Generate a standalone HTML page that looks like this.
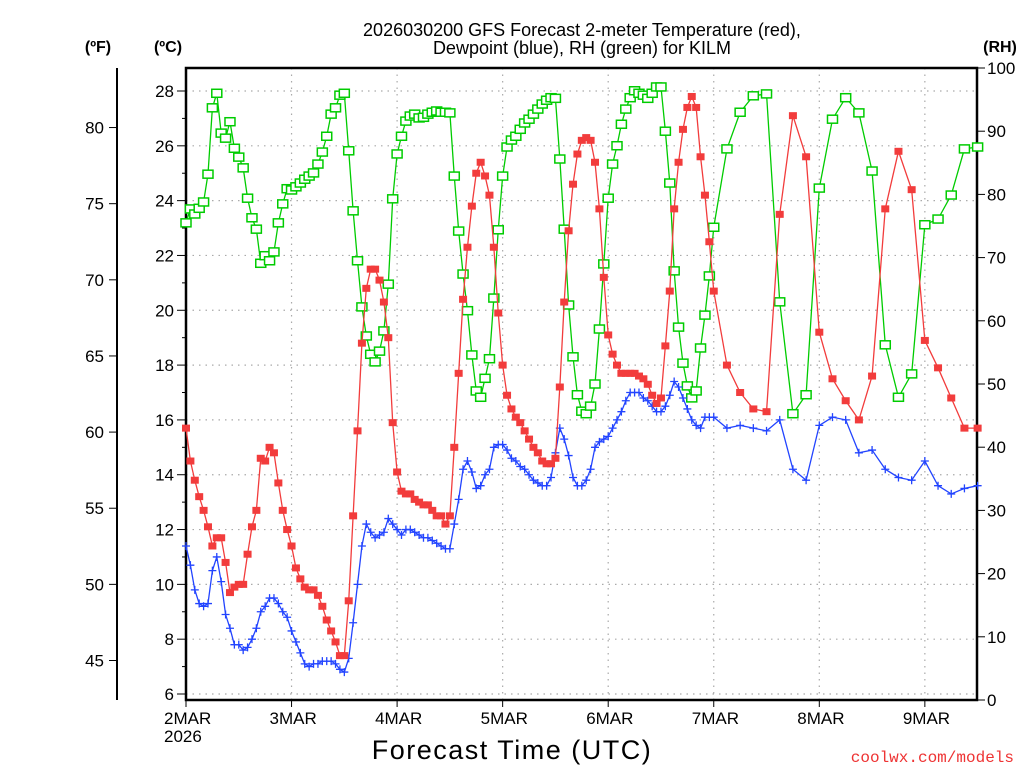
<!DOCTYPE html>
<html><head><meta charset="utf-8"><style>
html,body{margin:0;padding:0;background:#fff;}
svg{display:block;font-family:"Liberation Sans",sans-serif;}
</style></head><body>
<svg id="chart" width="1024" height="768" viewBox="0 0 1024 768" xmlns="http://www.w3.org/2000/svg">
<g id="grid"></g>
<g id="axes"></g>
<g id="series"></g>
<text x="582" y="36" font-size="18" text-anchor="middle">2026030200 GFS Forecast 2-meter Temperature (red),</text>
<text x="582" y="54" font-size="18" text-anchor="middle">Dewpoint (blue), RH (green) for KILM</text>
<text x="98" y="52" font-size="16" font-weight="bold" text-anchor="middle">(ºF)</text>
<text x="168" y="52" font-size="16" font-weight="bold" text-anchor="middle">(ºC)</text>
<text x="1000" y="52" font-size="16" font-weight="bold" text-anchor="middle">(RH)</text>
<text x="512" y="759" font-size="27" letter-spacing="1.5" text-anchor="middle">Forecast Time (UTC)</text>
<text x="1014" y="762" font-size="16" fill="#ee3333" text-anchor="end" font-family="Liberation Mono, monospace">coolwx.com/models</text>
</svg>
<script>
const tempHours = [];
for (let i = 0; i <= 120; i++) tempHours.push(i);
for (let i = 123; i <= 180; i += 3) tempHours.push(i);
const tempC = [15.7,14.5,13.8,13.2,12.7,12.1,11.4,11.7,11.7,10.8,9.7,9.9,10.0,10.0,11.1,12.1,12.7,14.6,14.5,15.0,14.8,13.7,12.7,12.0,11.4,10.6,10.2,9.9,9.8,9.8,9.6,9.2,8.7,8.3,7.9,7.4,7.4,9.4,
12.5,15.6,18.8,20.8,21.5,21.5,21.1,20.3,19.0,15.9,14.1,
13.4,13.3,13.3,13.1,13.0,12.9,12.9,12.7,12.5,12.5,12.2,12.5,15.0,17.7,20.4,22.3,23.8,25.0,25.4,24.9,24.2,22.3,19.9,18.0,16.9,16.4,16.1,15.9,15.6,15.3,15.0,14.8,14.5,14.4,14.4,14.6,17.2,20.3,22.9,24.6,25.7,26.2,26.3,26.2,25.4,23.7,21.2,19.1,
18.4,18.0,17.7,17.7,17.7,17.7,17.6,17.5,17.3,16.9,16.6,16.8,18.7,20.7,23.7,25.4,26.6,27.4,27.8,27.4,25.6,24.2,22.5,20.7,
18.0,17.0,16.4,16.3,23.5,27.1,25.6,19.2,17.5,16.7,16.0,17.6,23.7,25.8,24.4,18.9,17.9,16.8,15.7,15.7];
const dewC = [11.4,10.7,9.8,9.3,9.2,9.3,10.5,11.0,10.1,8.9,8.4,7.8,7.8,7.6,7.7,8.0,8.4,9.0,9.2,9.5,9.5,9.3,9.0,8.8,8.3,7.9,7.5,7.1,7.0,7.1,7.1,7.2,7.2,7.2,7.1,6.9,6.8,7.3,8.6,10.0,11.4,12.2,11.9,11.7,11.8,11.9,12.4,
12.2,12.0,11.8,12.0,12.0,11.9,11.8,11.7,11.7,11.6,11.5,11.4,11.3,11.3,
12.2,13.1,14.2,14.5,14.1,13.5,13.6,14.0,14.2,15.0,15.1,15.1,14.9,14.6,14.5,14.3,14.2,14.0,13.8,13.7,13.6,13.6,13.9,14.8,15.7,15.3,14.7,13.9,13.6,13.6,13.8,14.2,15.0,15.2,15.3,
15.4,15.7,16.0,16.3,16.7,17.0,17.0,17.0,16.8,16.7,16.5,16.3,16.3,16.5,16.9,17.4,17.2,16.8,16.4,16.0,15.8,15.7,16.1,16.1,16.1,
15.7,15.8,15.7,15.6,16.0,14.2,13.8,15.8,16.1,16.0,14.8,14.9,14.2,13.9,13.8,14.5,13.6,13.3,13.5,13.6];
const rhPct = [75.5,77.7,76.9,77.8,78.8,83.2,93.7,96.0,89.7,88.9,91.5,87.3,85.9,84.2,79.4,76.3,74.5,69.1,70.3,69.5,70.9,75.5,78.5,80.9,80.7,81.2,81.8,82.4,82.9,83.4,84.8,86.7,89.2,92.7,93.7,95.7,96.0,86.9,77.4,69.5,62.2,57.6,54.7,53.5,55.2,58.4,65.8,79.3,86.4,
89.2,91.6,92.4,92.7,92.1,92.2,92.7,93.0,93.2,93.0,93.0,92.9,82.9,74.2,67.4,61.6,54.6,48.9,47.9,50.9,54.0,63.6,74.4,82.9,87.5,88.6,89.2,90.3,91.3,91.9,92.7,93.5,94.3,94.9,95.3,95.2,85.6,74.5,62.5,54.3,48.3,45.7,45.3,46.5,50.0,58.7,69.0,79.4,
84.8,87.7,91.1,93.5,95.3,96.4,96.0,95.7,95.2,96.0,97.0,97.0,90.0,81.8,67.9,59.0,53.3,49.7,47.8,48.9,55.7,60.9,67.1,74.8,
87.2,93.0,95.6,95.9,63.0,45.3,48.3,81.0,91.9,95.3,92.9,83.7,56.2,47.9,51.6,75.2,76.1,79.9,87.2,87.5];
const cTicks = [6,8,10,12,14,16,18,20,22,24,26,28];
const fTicks = [45,50,55,60,65,70,75,80];
const rhTicks = [0,10,20,30,40,50,60,70,80,90,100];
const dayLabels = ["2MAR","3MAR","4MAR","5MAR","6MAR","7MAR","8MAR","9MAR"];

const NS = "http://www.w3.org/2000/svg";
const L = 186, R = 977, T = 68, B = 700;
const xScale = h => L + h * (105.55 / 24);
const yC = c => 91 + (28 - c) * (603 / 22);
const yF = f => yC((f - 32) * 5 / 9);
const yRH = r => B - r * (B - T) / 100;
function el(tag, attrs, parent) {
  const e = document.createElementNS(NS, tag);
  for (const k in attrs) e.setAttribute(k, attrs[k]);
  parent.appendChild(e);
  return e;
}
const grid = document.getElementById('grid');
const axes = document.getElementById('axes');
const series = document.getElementById('series');

cTicks.forEach(c => {
  const y = yC(c);
  const g = el('line', {x1: L, x2: R, y1: y, y2: y, stroke: '#aaa', 'stroke-width': 1.2, 'stroke-dasharray': '1.5 5'}, grid);
  
  
  const t = el('line', {x1: L - 9, x2: L, y1: y, y2: y, stroke: '#000', 'stroke-width': 1}, axes);
  
  
  const lb = el('text', {x: L - 12, y: y + 6, 'font-size': 17, 'text-anchor': 'end'}, axes);
  lb.textContent = c;
  
  
});
for (let c = 7; c <= 28; c++) {
  if (c % 2 === 0) continue;
  const y = yC(c);
  const t = el('line', {x1: L - 4, x2: L, y1: y, y2: y, stroke: '#000', 'stroke-width': 1}, axes);
  
  
}
dayLabels.forEach((d, i) => {
  const x = xScale(i * 24);
  const g = el('line', {x1: x, x2: x, y1: T, y2: B, stroke: '#aaa', 'stroke-width': 1.2, 'stroke-dasharray': '1.5 5'}, grid);
  
  
  const t = el('line', {x1: x, x2: x, y1: B, y2: B + 7, stroke: '#000', 'stroke-width': 1}, axes);
  
  
  const lb = el('text', {x: i === 0 ? L - 22 : x - 22, y: B + 24, 'font-size': 17}, axes);
  lb.textContent = d;
  
  
});
const yr = el('text', {x: L - 22, y: B + 42, 'font-size': 17}, axes);
yr.textContent = '2026';



const fr = el('rect', {x: L, y: T, width: R - L, height: B - T, fill: 'none', stroke: '#000', 'stroke-width': 2.5}, axes);


const fax = el('line', {x1: 117, x2: 117, y1: T, y2: B, stroke: '#000', 'stroke-width': 2}, axes);


fTicks.forEach(f => {
  const y = yF(f);
  const t = el('line', {x1: 109, x2: 117, y1: y, y2: y, stroke: '#000', 'stroke-width': 1}, axes);
  
  
  const lb = el('text', {x: 104, y: y + 6, 'font-size': 17, 'text-anchor': 'end'}, axes);
  lb.textContent = f;
  
  
});
rhTicks.forEach(r => {
  const y = yRH(r);
  const t = el('line', {x1: R, x2: R + 8, y1: y, y2: y, stroke: '#000', 'stroke-width': 1}, axes);
  
  
  const lb = el('text', {x: R + 10, y: y + 6, 'font-size': 17}, axes);
  lb.textContent = r;
  
  
});

function drawSeries(vals, yf, color, kind, name) {
  const pts = vals.map((v, i) => [xScale(tempHours[i]), yf(v)]);
  const pl = el('polyline', {points: pts.map(p => p.join(',')).join(' '), fill: 'none', stroke: color, 'stroke-width': 1.3}, series);
  
  
  pts.forEach(p => {
    let m;
    if (kind === 'filled') {
      m = el('rect', {x: p[0] - 4, y: p[1] - 3.5, width: 8, height: 7, fill: color}, series);
    } else if (kind === 'open') {
      m = el('rect', {x: p[0] - 5, y: p[1] - 4, width: 10, height: 8, fill: '#fff', stroke: color, 'stroke-width': 1.5}, series);
    } else {
      m = el('path', {d: `M${p[0] - 4},${p[1]}H${p[0] + 4}M${p[0]},${p[1] - 4}V${p[1] + 4}`, stroke: color, 'stroke-width': 1.3}, series);
    }
    
    
  });
}
drawSeries(rhPct, yRH, '#00cc00', 'open', 'rh');
drawSeries(dewC, yC, '#2244ff', 'plus', 'dewpoint');
drawSeries(tempC, yC, '#f23c3c', 'filled', 'temperature');
</script>
</body></html>
